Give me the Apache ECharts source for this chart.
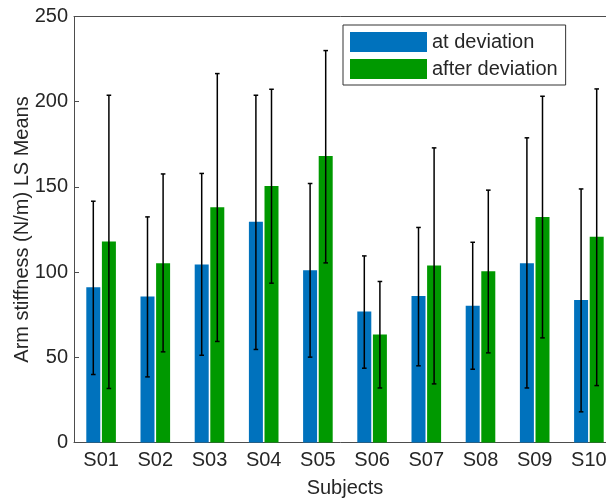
<!DOCTYPE html>
<html>
<head>
<meta charset="utf-8">
<script src="https://cdn.jsdelivr.net/npm/echarts@6/dist/echarts.min.js"></script>
<style>html,body{margin:0;padding:0;background:#fff;}#c{width:606px;height:498px;}</style>
</head>
<body>
<div id="c"></div>
<script>
const categories = ['S01','S02','S03','S04','S05','S06','S07','S08','S09','S10'];
const seriesNames = ['at deviation','after deviation'];
const atMean  = [91.1, 85.7, 104.5, 129.5, 101.1, 76.9, 86.0, 80.2, 105.2, 83.7];
const atLow   = [39.9, 38.5, 51.2, 54.6, 50.1, 43.6, 45.0, 43.0, 32.0, 18.0];
const atHigh  = [141.6, 132.4, 157.9, 203.8, 152.0, 109.5, 126.2, 117.5, 178.8, 148.8];
const afterMean = [118.0, 105.2, 138.1, 150.6, 168.2, 63.4, 103.9, 100.5, 132.4, 120.7];
const afterLow  = [31.7, 53.2, 59.3, 93.5, 105.4, 32.0, 34.4, 52.6, 61.4, 33.4];
const afterHigh = [203.8, 157.6, 216.5, 207.3, 230.0, 94.5, 172.9, 148.1, 203.2, 207.5];
const yTicks = [0, 50, 100, 150, 200, 250];

const FONT = "'Liberation Sans', Arial, Helvetica, sans-serif";
const TXT = '#262626';
const AX = '#4d4d4d';
const BAR_W = 14;
const GAP = 1.6;

function errData(low, high) {
  return categories.map((c, i) => [i, low[i], high[i]]);
}
function errSeries(name, low, high, sign) {
  return {
    type: 'custom',
    name: name + ' err',
    xAxisIndex: 0, yAxisIndex: 0,
    z: 10,
    silent: true,
    data: errData(low, high),
    encode: { x: 0, y: [1, 2] },
    renderItem: function (params, api) {
      const c = api.coord([api.value(0), api.value(1)]);
      const h = api.coord([api.value(0), api.value(2)]);
      const x = c[0] + sign * (BAR_W / 2 + GAP / 2);
      const cap = 2.3;
      const st = { stroke: '#000', lineWidth: 1.5, fill: null };
      return {
        type: 'group',
        children: [
          { type: 'line', shape: { x1: x, y1: c[1], x2: x, y2: h[1] }, style: st },
          { type: 'line', shape: { x1: x - cap, y1: c[1], x2: x + cap, y2: c[1] }, style: st },
          { type: 'line', shape: { x1: x - cap, y1: h[1], x2: x + cap, y2: h[1] }, style: st }
        ]
      };
    }
  };
}

const chart = echarts.init(document.getElementById('c'), null, { renderer: 'canvas' });
chart.setOption({
  animation: false,
  backgroundColor: '#fff',
  textStyle: { fontFamily: FONT },
  grid: { left: 74, top: 16.5, width: 542, height: 426, containLabel: false, outerBoundsMode: 'none' },
  legend: {
    orient: 'vertical',
    left: 343, top: 25,
    padding: [7, 8, 6, 7],
    itemWidth: 77, itemHeight: 20, itemGap: 7,
    icon: 'rect',
    borderColor: '#333', borderWidth: 1,
    backgroundColor: '#fff',
    data: seriesNames,
    textStyle: { fontFamily: FONT, fontSize: 20, color: TXT, lineHeight: 20 }
  },
  xAxis: [{
    type: 'category',
    data: categories,
    position: 'bottom',
    name: 'Subjects',
    nameLocation: 'middle',
    nameGap: 36,
    nameMoveOverlap: false,
    nameTextStyle: { fontFamily: FONT, fontSize: 20, color: TXT },
    axisLine: { lineStyle: { color: AX, width: 1 } },
    axisTick: { inside: true, alignWithLabel: true, length: 5, lineStyle: { color: AX } },
    axisLabel: { fontFamily: FONT, fontSize: 20, color: TXT, margin: 8 },
    splitLine: { show: false }
  }, {
    type: 'category',
    data: categories,
    position: 'top',
    axisLine: { lineStyle: { color: AX, width: 1 } },
    axisTick: { inside: true, alignWithLabel: true, length: 5, lineStyle: { color: AX } },
    axisLabel: { show: false },
    splitLine: { show: false }
  }],
  yAxis: {
    type: 'value',
    min: yTicks[0], max: yTicks[yTicks.length - 1], interval: 50,
    name: 'Arm stiffness (N/m) LS Means',
    nameLocation: 'middle',
    nameGap: 42,
    nameMoveOverlap: false,
    nameTextStyle: { fontFamily: FONT, fontSize: 20, color: TXT },
    axisLine: { show: true, lineStyle: { color: AX, width: 1 } },
    axisTick: { show: true, inside: true, length: 5, lineStyle: { color: AX } },
    axisLabel: { fontFamily: FONT, fontSize: 20, color: TXT, margin: 6 },
    splitLine: { show: false }
  },
  series: [
    { type: 'bar', name: seriesNames[0], data: atMean, barWidth: BAR_W, barGap: (GAP / BAR_W * 100) + '%',
      itemStyle: { color: '#0072BD' } },
    { type: 'bar', name: seriesNames[1], data: afterMean, barWidth: BAR_W, barGap: (GAP / BAR_W * 100) + '%',
      itemStyle: { color: '#009900' } },
    errSeries(seriesNames[0], atLow, atHigh, -1),
    errSeries(seriesNames[1], afterLow, afterHigh, 1)
  ]
});
</script>
</body>
</html>
